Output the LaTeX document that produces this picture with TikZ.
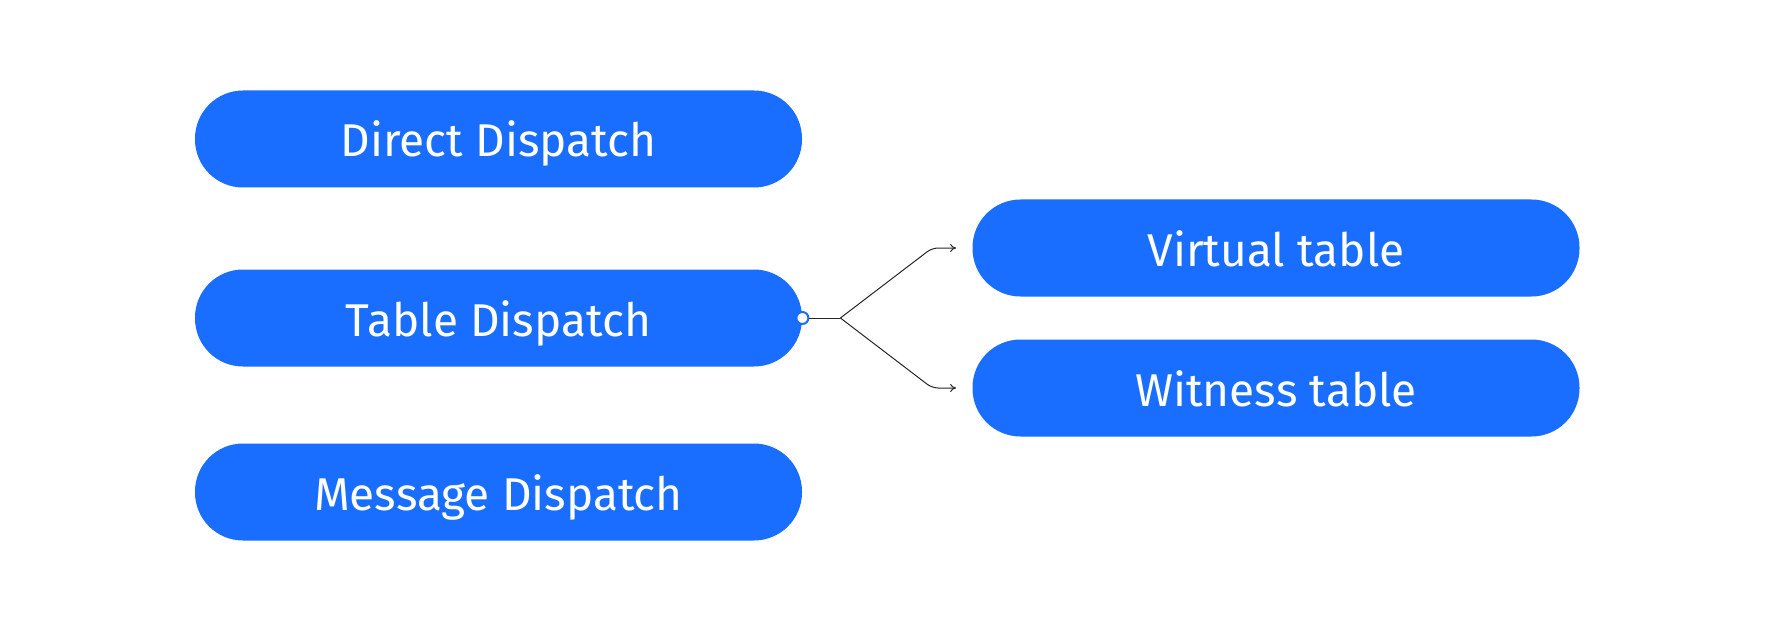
\documentclass[tikz,border=0pt]{standalone}
\usepackage{fontspec}
\setmainfont{Fira Sans}
\usepackage{tikz}
\usetikzlibrary{arrows.meta, positioning, calc}

\definecolor{dispblue}{RGB}{26,110,255}

\begin{document}
\begin{tikzpicture}[node distance=40pt and 85pt,
      kind/.style={fill=dispblue,rounded corners=24pt,minimum width=303.5pt,
                   minimum height=48.5pt,text=white,align=center,
                   text height=18pt,text depth=0pt,
                   font=\fontsize{23}{27}\selectfont},
      link/.style={-{To[length=3pt,width=4pt]},line width=0.5pt,black!85,
                   rounded corners=3pt}]

    \useasboundingbox (0,0) rectangle (887pt,-315.5pt);

    \node[kind] at (249.25pt,-69.5pt) (direct)  {Direct Dispatch};
    \node[kind] at (249.25pt,-159pt)  (tbl)     {Table Dispatch};
    \node[kind] at (249.25pt,-246pt)  (message) {Message Dispatch};

    \node[kind] at (638pt,-124pt) (virtual) {Virtual table};
    \node[kind] at (638pt,-194pt) (witness) {Witness table};

    % fork out of the table dispatch
    \draw[line width=0.5pt,black!85] (tbl.east) -- ++(19pt,0) coordinate (fork);
    \draw[link] (fork) -- ($(virtual.west)+(-20pt,0)$) -- ($(virtual.west)+(-8pt,0)$);
    \draw[link] (fork) -- ($(witness.west)+(-20pt,0)$) -- ($(witness.west)+(-8pt,0)$);
    \filldraw[fill=white,draw=dispblue,line width=1pt] (tbl.east) circle (3pt);
  \end{tikzpicture}
\end{document}
